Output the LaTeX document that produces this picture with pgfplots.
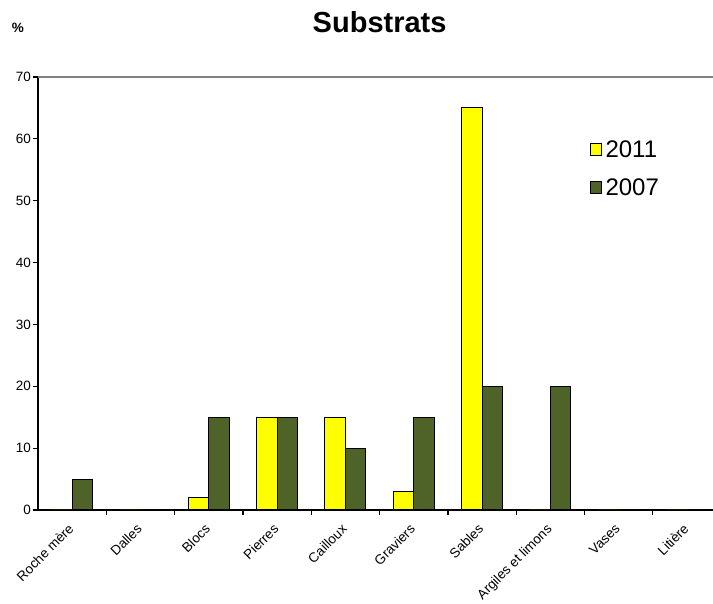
\documentclass[border=0pt]{standalone}
\usepackage{pgfplots}
\pgfplotsset{compat=1.18}
\usepackage{fontspec}
\setmainfont{Liberation Sans}
\definecolor{olive2007}{HTML}{4F6228}
\definecolor{yel2011}{HTML}{FFFF00}
\begin{document}
\begin{tikzpicture}[x=1pt,y=1pt]
\path[use as bounding box] (-38,-94) rectangle (675,510);
\begin{axis}[
  at={(0,0)}, anchor=south west,
  scale only axis, width=675pt, height=433pt,
  xmin=-0.5, xmax=9.38, ymin=0, ymax=70,
  axis x line*=bottom, axis y line*=left,
  axis line style={black, line width=1.2pt},
  xtick={0,...,9},
  xticklabels={Roche mère,Dalles,Blocs,Pierres,Cailloux,Graviers,Sables,Argiles et limons,Vases,Litière},
  major x tick style={draw=none},
  minor xtick={0.5,1.5,...,8.5},
  minor x tick style={black, line width=1.2pt},
  minor tick length=5pt,
  ytick={0,10,...,70},
  major tick length=5pt,
  tick align=outside,
  y tick style={black, line width=1.2pt},
  tick label style={font=\fontsize{13.5}{16}\selectfont},
  /pgf/number format/assume math mode=true,
  xticklabel style={rotate=45, anchor=north east, inner sep=0pt, yshift=-2.2pt, xshift=-8.9pt, font=\fontsize{13.5}{16}\selectfont},
  yticklabel style={inner sep=2pt},
  legend style={at={(axis cs:7.57,60.1)}, anchor=north west, draw=none, fill=none,
    font=\fontsize{24}{26}\selectfont, row sep=16pt, inner sep=0pt,
    nodes={inner xsep=4pt}},
  legend cell align=left,
  legend image code/.code={\draw[#1, line width=1pt] (0pt,-6pt) rectangle (11pt,6pt);},
  clip=false,
]
\draw[gray, line width=1.2pt] (rel axis cs:0,1) -- (rel axis cs:1,1);
\addplot[ybar, bar width=0.3, bar shift=-0.15, fill=yel2011, draw=black, line width=1pt]
  coordinates {(0,0) (1,0) (2,2) (3,15) (4,15) (5,3) (6,65) (7,0) (8,0) (9,0)};
\addlegendentry{2011}
\addplot[ybar, bar width=0.3, bar shift=0.15, fill=olive2007, draw=black, line width=1pt]
  coordinates {(0,5) (1,0) (2,15) (3,15) (4,10) (5,15) (6,20) (7,20) (8,0) (9,0)};
\addlegendentry{2007}
\node[font=\bfseries\fontsize{29}{32}\selectfont] at (axis cs:4.5,70) [yshift=55pt] {Substrats};
\node[font=\bfseries\fontsize{13.5}{16}\selectfont] at (rel axis cs:0,1) [xshift=-20pt, yshift=49pt] {\%};
\end{axis}
\end{tikzpicture}
\end{document}
